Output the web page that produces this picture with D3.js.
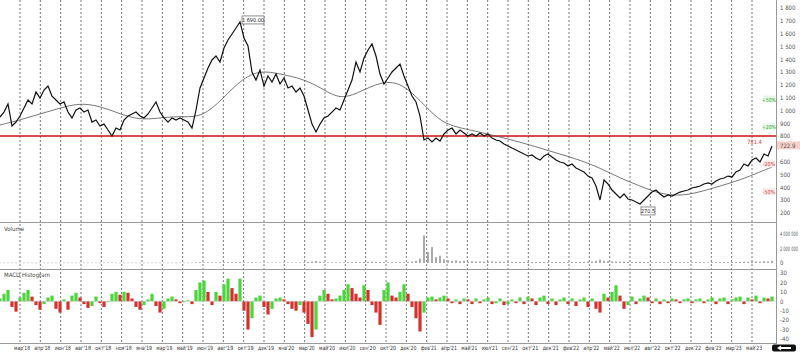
<!DOCTYPE html>
<html>
<head>
<meta charset="utf-8">
<script src="https://cdn.jsdelivr.net/npm/d3@7"></script>
<style>
  body { margin: 0; background: #fff; }
  svg { display: block; font-family: "DejaVu Sans", sans-serif; font-stretch: condensed; }
</style>
</head>
<body>
<div class="chart"></div>
<script>
// месячные подписи оси X
const monthLabels = ["мар'18","апр'18","июн'18","авг'18","окт'18","ноя'18","янв'19","мар'19","май'19","июн'19",
  "авг'19","окт'19","дек'19","янв'20","мар'20","май'20","июл'20","сен'20","окт'20","дек'20",
  "фев'21","апр'21","май'21","июл'21","сен'21","окт'21","дек'21","фев'22","апр'22","май'22",
  "июл'22","авг'22","окт'22","дек'22","фев'23","мар'23","май'23"]

// цена закрытия (шаг ~ неделя)
const price = [948,987,1050,878,909,956,1019,1081,1050,1144,1097,1159,1190,1112,1081,1050,1066,987,941,1003,
  1019,987,1003,909,925,878,893,847,800,862,847,925,956,972,987,956,941,972,1019,1066,
  987,941,909,941,925,941,925,909,862,1003,1175,1253,1331,1394,1425,1378,1487,1550,1597,1644,
  1691,1566,1503,1300,1237,1316,1190,1269,1222,1284,1206,1253,1175,1190,1144,1175,1112,1003,893,831,
  893,941,956,987,1019,1003,1081,1159,1237,1378,1300,1409,1472,1519,1425,1284,1206,1253,1300,1331,
  1362,1269,1190,1112,1066,956,769,784,753,784,761,816,847,862,816,847,823,800,816,800,
  823,800,816,784,769,761,737,722,706,691,675,659,644,652,628,612,644,659,636,612,
  597,589,566,581,550,534,519,487,472,409,300,456,425,378,347,316,347,308,300,284,
  269,300,331,362,378,347,323,339,331,347,362,370,378,394,401,409,425,433,425,448,
  464,472,487,480,519,534,581,566,612,628,597,659,644,722]

// скользящая средняя (каждые 5 точек цены)
const movingAvg = [886,925,972,1019,1058,1034,972,925,941,956,941,1066,1237,1316,1284,1253,1183,1081,1144,1222,
  1222,1081,909,862,831,792,753,706,659,612,550,472,409,347,331,362,409,456,519,558]

// объём, млн
const volume = [0.05,0.04,0.06,0.05,0.04,0.05,0.06,0.05,0.04,0.05,0.06,0.05,0.04,0.05,0.05,0.04,0.06,0.05,0.04,0.05,
  0.05,0.04,0.05,0.06,0.05,0.04,0.05,0.06,0.08,0.05,0.04,0.05,0.06,0.05,0.04,0.05,0.05,0.04,0.06,0.05,
  0.04,0.05,0.05,0.04,0.05,0.06,0.05,0.04,0.06,0.10,0.12,0.08,0.10,0.09,0.08,0.10,0.12,0.10,0.09,0.11,
  0.14,0.10,0.09,0.12,0.08,0.07,0.08,0.07,0.06,0.07,0.06,0.07,0.08,0.07,0.06,0.08,0.10,0.14,0.22,0.30,
  0.18,0.12,0.10,0.09,0.10,0.08,0.10,0.12,0.14,0.16,0.12,0.15,0.18,0.20,0.16,0.14,0.12,0.10,0.12,0.11,
  0.14,0.12,0.15,0.20,0.30,0.60,3.80,1.50,2.20,0.80,1.00,0.50,0.40,0.30,0.35,0.25,0.30,0.22,0.25,0.20,
  0.22,0.18,0.20,0.22,0.18,0.20,0.16,0.18,0.15,0.16,0.14,0.15,0.18,0.14,0.16,0.15,0.14,0.12,0.14,0.16,
  0.14,0.12,0.14,0.12,0.15,0.14,0.16,0.18,0.20,0.30,0.45,0.30,0.25,0.22,0.20,0.18,0.20,0.16,0.15,0.16,
  0.18,0.15,0.14,0.12,0.14,0.12,0.11,0.12,0.10,0.11,0.12,0.10,0.11,0.12,0.10,0.11,0.12,0.10,0.12,0.11,
  0.12,0.14,0.12,0.13,0.15,0.16,0.18,0.16,0.20,0.22,0.18,0.25,0.22,0.30]

// MACD гистограмма
const macdHist = [3,8,12,-6,-11,4,9,12,5,-4,-9,-3,4,6,-8,-12,2,-9,6,9,
  4,-3,-7,-5,5,-2,-6,-1,8,10,7,10,9,3,-6,-9,-4,2,8,-5,
  -12,-8,3,5,2,-2,-1,1,-3,12,20,22,10,-4,10,6,18,24,14,8,
  24,-10,-30,-18,4,6,-6,-14,-8,3,4,2,-3,-8,-10,-4,-12,-24,-38,-30,
  6,12,8,2,3,6,12,18,14,8,4,17,12,-4,-12,-25,12,20,6,4,
  10,18,8,-6,-18,-32,-12,4,5,2,4,6,3,-2,2,-3,3,2,-3,3,
  -2,2,4,-3,-2,3,-4,-3,2,-2,4,-3,5,3,-4,4,6,-3,3,-4,
  2,4,-3,3,-5,2,4,-6,3,-8,-12,8,4,10,17,6,-8,-4,5,-3,
  3,6,4,-2,3,-3,2,-2,3,2,-2,2,3,-2,2,3,-2,2,4,-3,
  3,4,-3,2,4,5,-3,4,2,6,-2,4,3,5]

const priceTicks = [1800,1700,1600,1500,1400,1300,1200,1100,1000,900,800,700,600,500,400,300,200]
const volumeTicks = [4000000, 2000000, 0]
const macdTicks = [30,20,10,0,-10,-20,-30,-40]

const levelLine = 800
const lastPrice = 722.9
const peakLabel = "1 690.00"
const lowLabel = "270.5"
const levelLabel = "781.4"
const pctLevels = [
  { k: 1.5, t: "+50%" }, { k: 1.2, t: "+20%" }, { k: 0.8, t: "-20%" }, { k: 0.5, t: "-50%" }
]

function drawChart() {
  const width = 800, height = 352
  const plotRight = 776
  const svg = d3.select('.chart').append('svg')
    .attr('width', width).attr('height', height)

  const fmt = d => d3.format(',')(d).replace(/,/g, ' ')

  // шкалы
  const x = d3.scaleLinear().domain([0, price.length - 1]).range([0, 772])
  const xLab = d3.scalePoint().domain(monthLabels).range([22, 754])
  const yP = d3.scaleLinear().domain([200, 1800]).range([212.8, 8])
  const yV = d3.scaleLinear().domain([0, 4000000]).range([263, 234])
  const yM = d3.scaleLinear().domain([-40, 30]).range([339, 273])

  // вертикальная сетка
  svg.append('g').selectAll('line').data(monthLabels).enter().append('line')
    .attr('x1', d => xLab(d) - 2).attr('x2', d => xLab(d) - 2)
    .attr('y1', 0).attr('y2', 343)
    .attr('stroke', '#555').attr('stroke-width', 0.8)
    .attr('stroke-dasharray', '2,2')

  // рамки панелей
  const borders = svg.append('g').attr('stroke', '#999').attr('stroke-width', 1)
  ;[222.5, 269.5, 343.5].forEach(yy => {
    borders.append('line').attr('x1', 0).attr('x2', plotRight).attr('y1', yy).attr('y2', yy)
  })
  borders.append('line').attr('x1', plotRight + 0.5).attr('x2', plotRight + 0.5).attr('y1', 0).attr('y2', 344)

  // правая ось (длинные подписи сжимаются по горизонтали)
  const axisText = (g, ticks, scale, f, maxW) => {
    g.selectAll('text').data(ticks).enter().append('text')
      .attr('x', 0).attr('y', 0)
      .attr('font-size', 6).attr('fill', '#555')
      .text(f)
      .each(function (d) {
        const w = this.getComputedTextLength()
        const k = w > maxW ? maxW / w : 1
        d3.select(this).attr('transform', `translate(${plotRight + 4},${scale(d) + 2.3}) scale(${k},1)`)
      })
  }
  axisText(svg.append('g'), priceTicks.filter(t => Math.abs(yP(t) - yP(lastPrice)) > 5), yP, fmt, 18)
  axisText(svg.append('g'), volumeTicks, yV, fmt, 18)
  axisText(svg.append('g'), macdTicks, yM, d => d, 18)

  // линия уровня
  svg.append('line')
    .attr('x1', 0).attr('x2', plotRight)
    .attr('y1', yP(levelLine)).attr('y2', yP(levelLine))
    .attr('stroke', '#cc1111').attr('stroke-width', 1.6)
  svg.append('text').attr('x', 747).attr('y', yP(levelLine) + 7.5)
    .attr('font-size', 5.8).attr('fill', '#c44').text(levelLabel)

  // скользящая средняя
  svg.append('path').datum(movingAvg)
    .attr('fill', 'none').attr('stroke', '#555').attr('stroke-width', 0.8)
    .attr('d', d3.line().x((d, i) => x(Math.min(i * 5, price.length - 1))).y(d => yP(d)).curve(d3.curveBasis))

  // цена
  svg.append('path').datum(price)
    .attr('fill', 'none').attr('stroke', '#111').attr('stroke-width', 1.2)
    .attr('d', d3.line().x((d, i) => x(i)).y(d => yP(d)))

  // процентные уровни
  pctLevels.forEach(p => {
    const up = p.k > 1
    const g = svg.append('g')
    g.append('rect').attr('x', 763).attr('y', yP(lastPrice * p.k) - 4)
      .attr('width', 12).attr('height', 7)
      .attr('fill', up ? '#e6f7e6' : '#fbeaea')
    g.append('text').attr('x', 769).attr('y', yP(lastPrice * p.k) + 2)
      .attr('text-anchor', 'middle').attr('font-size', 5.3)
      .attr('fill', up ? '#3a3' : '#c44').text(p.t)
  })

  // текущая цена на оси
  svg.append('rect').attr('x', plotRight + 1).attr('y', yP(lastPrice) - 4.5)
    .attr('width', 23).attr('height', 8).attr('fill', '#f6d0c8')
  svg.append('text').attr('x', plotRight + 4).attr('y', yP(lastPrice) + 2)
    .attr('font-size', 6).attr('fill', '#555').text(lastPrice)

  // подписи максимума и минимума
  const iMax = d3.maxIndex(price), iMin = d3.minIndex(price)
  const tag = (xx, yy, t, w) => {
    const g = svg.append('g')
    g.append('rect').attr('x', xx).attr('y', yy - 5).attr('width', w).attr('height', 8)
      .attr('fill', '#fff').attr('stroke', '#444').attr('stroke-width', 0.6)
    g.append('text').attr('x', xx + w / 2).attr('y', yy + 1).attr('text-anchor', 'middle')
      .attr('font-size', 5.5).attr('fill', '#222').text(t)
  }
  tag(x(iMax) + 2, yP(price[iMax]) - 1, peakLabel, 22)
  tag(x(iMin) + 1, yP(price[iMin]) + 8, lowLabel, 14)

  // объём
  svg.append('g').selectAll('rect').data(volume).enter().append('rect')
    .attr('x', (d, i) => x(i) - 1).attr('width', 2)
    .attr('y', d => yV(d * 1e6)).attr('height', d => Math.max(0.5, yV(0) - yV(d * 1e6)))
    .attr('fill', '#aaa')

  // MACD
  svg.append('g').selectAll('rect').data(macdHist).enter().append('rect')
    .attr('x', (d, i) => x(i) - 1.6).attr('width', 3.2)
    .attr('y', d => yM(Math.max(0, d)))
    .attr('height', d => Math.abs(yM(d) - yM(0)))
    .attr('fill', (d, i) => (i > 0 && d < macdHist[i - 1]) ? '#d2322d' : '#4cd43c')
  svg.append('line').attr('x1', 0).attr('x2', plotRight).attr('y1', yM(0)).attr('y2', yM(0))
    .attr('stroke', '#bbb').attr('stroke-width', 0.5)

  // заголовки панелей
  svg.append('text').attr('x', 4).attr('y', 231).attr('font-size', 6).attr('fill', '#444').text('Volume')
  svg.append('text').attr('x', 4).attr('y', 277).attr('font-size', 6).attr('fill', '#444').text('MACD Histogram')

  // подписи по оси X
  svg.append('g').selectAll('text').data(monthLabels).enter().append('text')
    .attr('x', d => xLab(d)).attr('y', 350)
    .attr('text-anchor', 'middle').attr('font-size', 5.8).attr('fill', '#333')
    .text(d => d)
    .each(function () {
      if (this.getComputedTextLength() > 16) d3.select(this).attr('textLength', 16).attr('lengthAdjust', 'spacingAndGlyphs')
    })

  // кнопка со стрелкой
  svg.append('rect').attr('x', 772).attr('y', 344.5).attr('width', 24).attr('height', 7)
    .attr('rx', 2).attr('fill', '#111')
  svg.append('path').attr('d', 'M777,348 L781,345.5 L781,347 L791,347 L791,349 L781,349 L781,350.5 Z')
    .attr('fill', '#fff')
}

drawChart()
</script>
</body>
</html>
